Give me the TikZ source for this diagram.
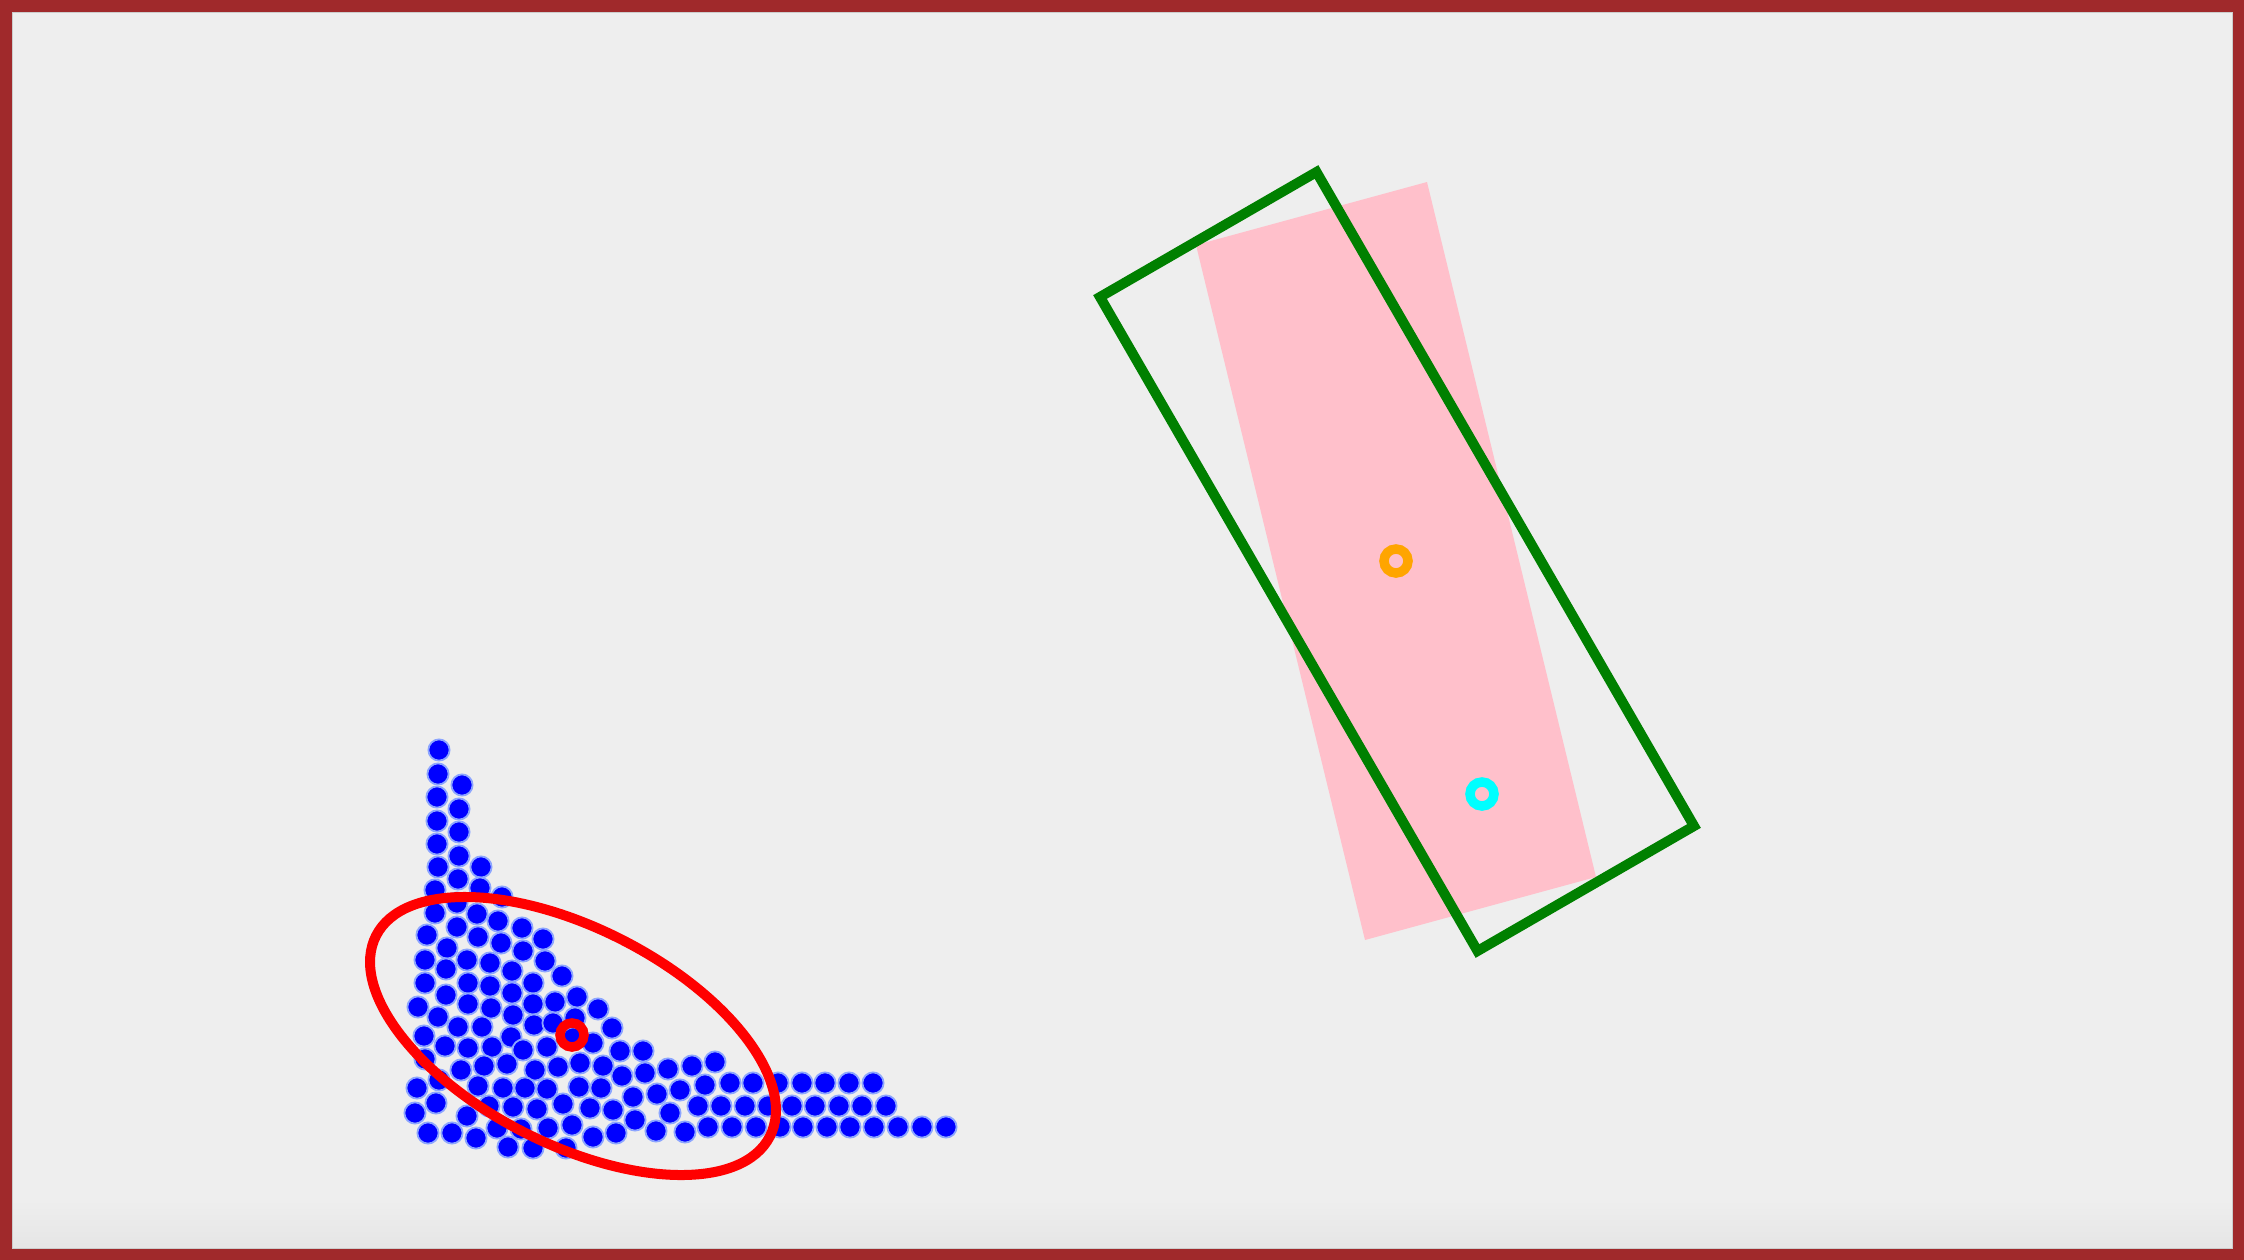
\documentclass[tikz,border=0pt]{standalone}
\usetikzlibrary{calc}
\definecolor{bg}{HTML}{EEEEEE}
\definecolor{frame}{HTML}{A0292B}
\definecolor{pinkfill}{HTML}{FFC0CB}
\definecolor{gframe}{HTML}{008000}
\definecolor{ringorange}{HTML}{FFA500}
\definecolor{ringcyan}{HTML}{00FFFF}
\definecolor{halo}{RGB}{140,165,255}
\tikzset{
  dot/.style={fill=blue, draw=halo, line width=0.018cm},
  ring/.style={line width=0.095cm},
}
\begin{document}
\begin{tikzpicture}[x=0.01cm,y=-0.01cm]
\useasboundingbox (0,0) rectangle (2244,1260);
% frame and background
\fill[frame] (0,0) rectangle (2244,1260);
\fill[bg] (12,12) rectangle (2232,1248);
\shade[top color=bg, bottom color=black!10] (12,1200) rectangle (2232,1248);
\draw[black!20, line width=0.01cm] (12,12) rectangle (2232,1248);
% pink rectangle
\fill[pinkfill] (1196,245) -- (1427,182) -- (1596,877) -- (1365,940) -- cycle;
% green rotated rectangle
\draw[gframe, line width=0.1cm, line join=miter]
  (1100,297) -- (1316.5,172) -- (1694,826) -- (1477.5,951) -- cycle;
% rings on the rectangles
\draw[ringorange, ring] (1396,561) circle (12);
\draw[ringcyan, ring] (1482,794) circle (12);
% blue dots
\foreach \px/\py in {
 439/750, 438/774, 462/785, 437/797, 459/809, 437/821, 459/832, 437/844, 459/856,
 438/867, 481/867, 458/879, 435/890, 480/888, 502/897, 457/903, 435/913, 477/914,
 498/921, 522/928, 457/927, 427/935, 478/937, 543/939, 501/943, 447/948, 523/951,
 425/960, 467/960, 490/963, 545/961, 446/969, 512/971, 562/976, 533/983,
 425/983, 468/983, 490/986, 512/993,
 418/1007, 446/995, 468/1004, 491/1008, 513/1015, 533/1004, 555/1002, 577/997, 598/1009,
 438/1017, 458/1027, 482/1027, 534/1025, 511/1037, 424/1036, 553/1023, 575/1018,
 612/1028, 593/1043, 573/1038,
 445/1046, 468/1048, 492/1047, 523/1050, 547/1047, 620/1051, 643/1051,
 425/1059, 461/1070, 484/1066, 507/1064, 535/1070, 558/1067, 580/1063, 603/1066,
 622/1076, 645/1073, 668/1069, 692/1066, 715/1062,
 417/1088, 439/1080, 478/1086, 503/1088, 525/1088, 547/1089, 579/1087, 601/1088,
 633/1097, 657/1094, 680/1090, 705/1085,
 730/1083, 753/1083, 778/1083, 802/1083, 825/1083, 849/1083, 873/1083,
 415/1113, 436/1103, 467/1116, 489/1106, 513/1107, 537/1109, 563/1104, 590/1108,
 613/1110, 635/1120, 670/1113,
 698/1106, 721/1106, 745/1106, 768/1106, 792/1106, 815/1106, 839/1106, 862/1106, 886/1106,
 428/1133, 452/1133, 476/1138, 497/1128, 521/1129, 548/1128, 572/1125, 593/1137,
 616/1133, 656/1131, 685/1132,
 708/1127, 732/1127, 756/1127, 780/1127, 803/1127, 827/1127, 850/1127, 874/1127,
 898/1127, 922/1127, 946/1127,
 508/1147, 533/1148, 566/1148}
 { \draw[dot] (\px,\py) circle (10.6); }
% red ellipse and ring
\draw[red, line width=0.1cm, rotate around={-27:(573,1036)}]
  (573,1036) ellipse [x radius=221, y radius=108];
\draw[red, ring] (572,1035) circle (12);
\end{tikzpicture}
\end{document}
